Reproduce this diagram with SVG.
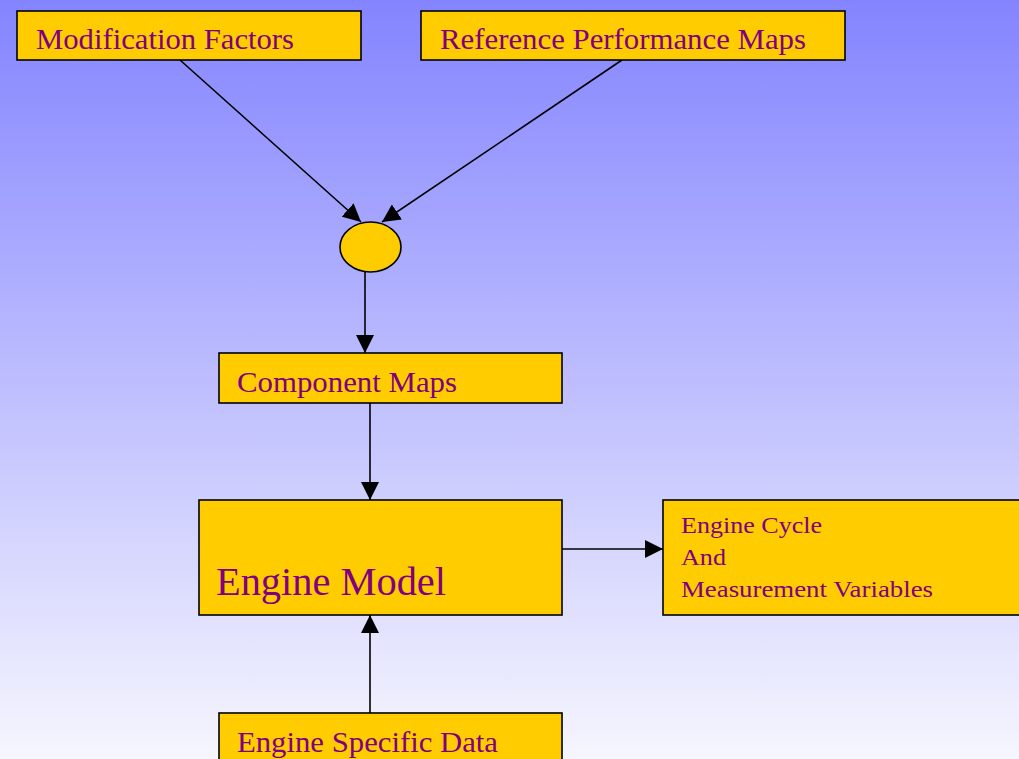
<svg xmlns="http://www.w3.org/2000/svg" width="1019" height="759" viewBox="0 0 1019 759">
<defs>
<linearGradient id="bg" x1="0" y1="0" x2="0" y2="1">
<stop offset="0" stop-color="#8484FF"/>
<stop offset="1" stop-color="#F6F6FE"/>
</linearGradient>
<marker id="arr" viewBox="0 0 10 10" refX="10" refY="5" markerWidth="18" markerHeight="18" markerUnits="userSpaceOnUse" orient="auto">
<path d="M0,0 L10,5 L0,10 Z" fill="#000"/>
</marker>
<style>
.box{fill:#FFCC00;stroke:#000;stroke-width:1.6}
.t{font-family:"Liberation Serif","Times New Roman",serif;fill:#800080}
.c{stroke:#000;stroke-width:1.6;fill:none;marker-end:url(#arr)}
</style>
</defs>
<rect x="0" y="0" width="1019" height="759" fill="url(#bg)"/>
<g id="connectors">
<line class="c" x1="180" y1="60" x2="361" y2="222"/>
<line class="c" x1="622" y1="60" x2="382" y2="222"/>
<line class="c" x1="365" y1="272" x2="365" y2="353"/>
<line class="c" x1="370" y1="403" x2="370" y2="500"/>
<line class="c" x1="562" y1="549" x2="663" y2="549"/>
<line class="c" x1="370" y1="713" x2="370" y2="615"/>
</g>
<g id="modification-factors">
<rect class="box" x="17" y="11" width="344" height="49"/>
<text class="t" x="36" y="48.5" font-size="29" textLength="258" lengthAdjust="spacingAndGlyphs">Modification Factors</text>
</g>
<g id="reference-performance-maps">
<rect class="box" x="421" y="11" width="424" height="49"/>
<text class="t" x="440" y="48.5" font-size="29" textLength="366" lengthAdjust="spacingAndGlyphs">Reference Performance Maps</text>
</g>
<g id="combine">
<ellipse class="box" cx="370.5" cy="247" rx="30.5" ry="25"/>
</g>
<g id="component-maps">
<rect class="box" x="219" y="353" width="343" height="50"/>
<text class="t" x="237" y="391.5" font-size="29" textLength="220" lengthAdjust="spacingAndGlyphs">Component Maps</text>
</g>
<g id="engine-model">
<rect class="box" x="199" y="500" width="363" height="115"/>
<text class="t" x="216" y="595" font-size="39" textLength="230" lengthAdjust="spacingAndGlyphs">Engine Model</text>
</g>
<g id="engine-cycle">
<rect class="box" x="663" y="500" width="370" height="115"/>
<text class="t" font-size="24"><tspan x="681" y="533" textLength="141" lengthAdjust="spacingAndGlyphs">Engine Cycle</tspan><tspan x="681" y="565" textLength="45" lengthAdjust="spacingAndGlyphs">And</tspan><tspan x="681" y="597" textLength="252" lengthAdjust="spacingAndGlyphs">Measurement Variables</tspan></text>
</g>
<g id="engine-specific-data">
<rect class="box" x="219" y="713" width="343" height="60"/>
<text class="t" x="237" y="752" font-size="29" textLength="261" lengthAdjust="spacingAndGlyphs">Engine Specific Data</text>
</g>
</svg>
